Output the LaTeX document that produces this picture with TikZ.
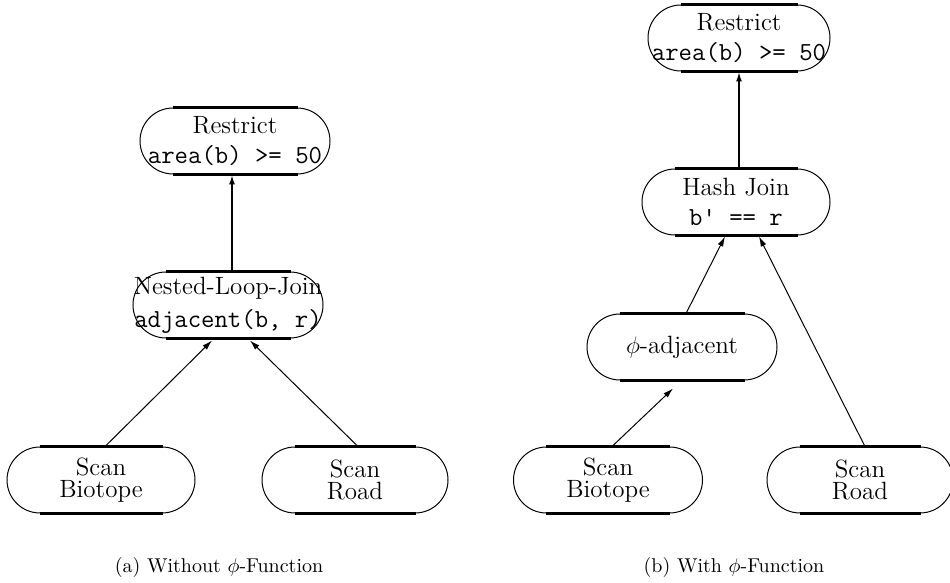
\documentclass[tikz,border=0pt]{standalone}
\usepackage{amsmath,amssymb}
\usepackage{xcolor}
\usepackage{tikz}
\usetikzlibrary{calc,arrows.meta}
\tikzset{
  opNode/.style={draw, line width=0.5pt, rectangle, rounded corners=16.5pt,
    minimum width=95pt, minimum height=33pt, inner sep=0pt, align=center,
    font=\fontsize{12.5}{11}\selectfont},
  opBar/.style={line width=1.3pt},
  flowEdge/.style={line width=0.5pt, -{Latex[length=5pt,width=3pt]}},
  flowThick/.style={line width=1.3pt, -{Latex[length=5pt,width=3pt]}},
  capLbl/.style={font=\fontsize{10}{12}\selectfont},
}
\newcommand{\opBars}[1]{%
  \draw[opBar] ([xshift=16.5pt]#1.north west) -- ([xshift=-16.5pt]#1.north east);
  \draw[opBar] ([xshift=16.5pt]#1.south west) -- ([xshift=-16.5pt]#1.south east);
}
\newcommand{\opCode}[1]{{\fontsize{13}{13}\selectfont\texttt{#1}}}

\begin{document}
\begin{tikzpicture}[x=0.5pt,y=-0.5pt]
  \useasboundingbox (0,0) rectangle (950,583);

  % (a) plan without phi
  \node[opNode, minimum width=95pt] (lRes) at (235,141) {Restrict\\[4pt]\opCode{area(b) >= 50}};
  \node[opNode] (lNlj) at (228,305) {Nested-Loop-Join\\[4pt]\opCode{adjacent(b, r)}};
  \node[opNode, minimum width=94pt] (lBio) at (101,480) {Scan\\Biotope};
  \node[opNode, minimum width=93pt] (lRoad) at (355,480) {Scan\\Road};
  \foreach \n in {lRes,lNlj,lBio,lRoad} {\opBars{\n}}

  \draw[flowThick] ($(lNlj.north)+(4,0)$) -- ($(lRes.south)+(-3,0)$);
  \draw[flowEdge] ($(lBio.north)+(4,0)$) -- ($(lNlj.south)+(-16,2)$);
  \draw[flowEdge] ($(lRoad.north)+(3,0)$) -- ($(lNlj.south)+(22,2)$);

  % (b) plan with phi
  \node[opNode, minimum width=91pt] (rRes) at (739,38) {Restrict\\[4pt]\opCode{area(b) >= 50}};
  \node[opNode, minimum width=94pt] (rHash) at (736,202) {Hash Join\\[4pt]\opCode{b' == r}};
  \node[opNode] (rPhi) at (682,347) {$\phi$-adjacent};
  \node[opNode, minimum width=94.5pt] (rBio) at (608,480) {Scan\\Biotope};
  \node[opNode, minimum width=93pt] (rRoad) at (860,480) {Scan\\Road};
  \foreach \n in {rRes,rHash,rPhi,rBio,rRoad} {\opBars{\n}}

  \draw[flowThick] ($(rHash.north)+(3,0)$) -- (rRes.south);
  \draw[flowEdge] ($(rPhi.north)+(4,0)$) -- ($(rHash.south)+(-11,1)$);
  \draw[flowEdge] ($(rRoad.north)+(5,0)$) -- ($(rHash.south)+(23,1)$);
  \draw[flowEdge] ($(rBio.north)+(4,0)$) -- ($(rPhi.south)+(-9,8)$);

  \node[capLbl] (capA) at (219,568) {(a) Without $\phi$-Function};
  \node[capLbl] (capB) at (734,568) {(b) With $\phi$-Function};
\end{tikzpicture}
\end{document}
